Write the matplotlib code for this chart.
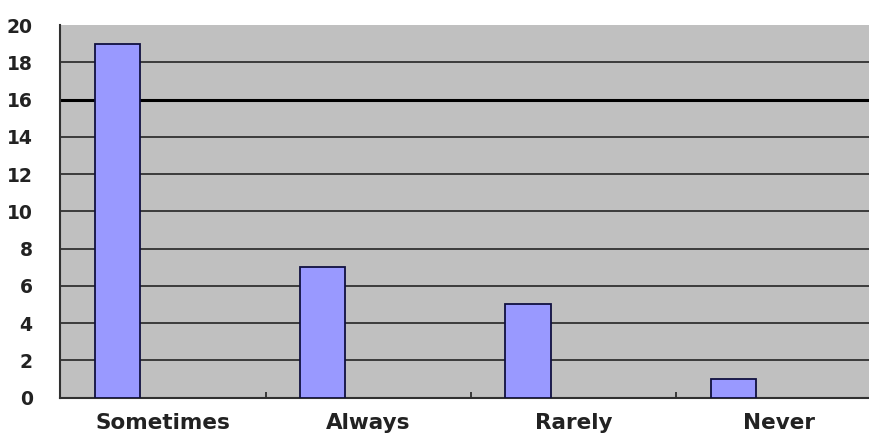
import matplotlib
matplotlib.use("Agg")
import matplotlib.pyplot as plt
import numpy as np

categories = ["Sometimes", "Always", "Rarely", "Never"]
counts = [19, 7, 5, 1]
y_ticks = [0, 2, 4, 6, 8, 10, 12, 14, 16, 18, 20]

fig = plt.figure(figsize=(8.7, 4.34), dpi=100)
fig.patch.set_facecolor("white")
ax = fig.add_axes([0.0695, 0.084, 0.944, 0.858])
ax.set_facecolor("#c0c0c0")

x = np.arange(len(categories))
bar_w = 0.22
ax.bar(x + 0.277, counts, width=bar_w, color="#9999ff",
       edgecolor="#101040", linewidth=1.3, zorder=3)

ax.set_xlim(0, len(categories))
ax.set_ylim(0, 20)
ax.set_yticks(y_ticks)
ax.set_yticklabels([str(v) for v in y_ticks], fontsize=13.5,
                   fontweight="bold", color="#222222")
ax.yaxis.grid(True, color="#303030", linewidth=1.3, zorder=1)
ax.axhline(16, color="#000000", linewidth=2.2, zorder=1)
ax.set_axisbelow(True)

# category labels centred in each slot, small tick marks at slot boundaries
ax.set_xticks(x + 0.5)
ax.set_xticklabels(categories, fontsize=15.5, fontweight="bold", color="#222222")
ax.tick_params(axis="x", length=0, pad=11)
ax.set_xticks(np.arange(1, len(categories)), minor=True)
ax.tick_params(axis="x", which="minor", direction="in", length=4,
               width=1.2, color="#222222")
ax.tick_params(axis="y", length=0, pad=20)

# no rule along the top edge of the plot area
fig.canvas.draw()
ax.yaxis.get_gridlines()[-1].set_visible(False)

for side in ("top", "right"):
    ax.spines[side].set_visible(False)
for side in ("left", "bottom"):
    ax.spines[side].set_color("#303030")
    ax.spines[side].set_linewidth(1.5)

fig.savefig("out.png", dpi=100)
